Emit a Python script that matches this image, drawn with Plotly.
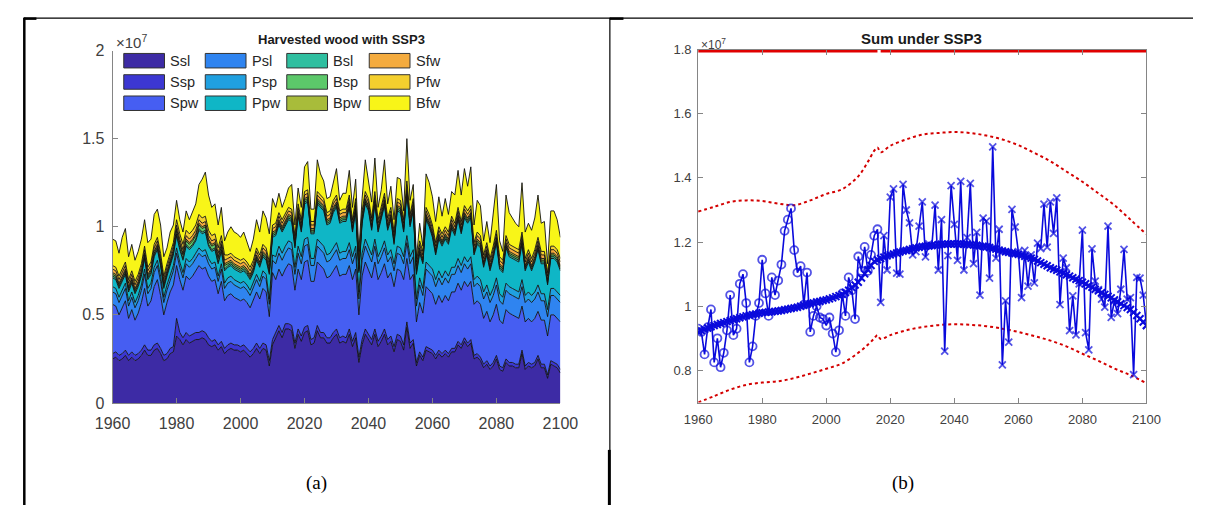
import plotly.graph_objects as go

# ---------------- data ----------------
years = list(range(1960, 2101))

layer_names = ["Ssl", "Ssp", "Spw", "Psl", "Psp", "Ppw",
               "Bsl", "Bsp", "Bpw", "Sfw", "Pfw", "Bfw"]
layer_colors = ["#3d2ba5", "#3c37d2", "#465ef2", "#2f84f0", "#20a0e0", "#0fb6c6",
                "#2fbfa0", "#5cc86a", "#a8bc3a", "#f4ab3e", "#f4cf2e", "#f8f518"]

# harvested wood per category, units of 1e5
ssl = [25, 26, 24, 25, 27, 24, 26, 24, 25, 27,
       30, 27, 27, 30, 31, 28, 24, 25, 28, 29,
       38, 36, 33, 36, 34, 35, 36, 36, 37, 36,
       33, 32, 33, 30, 32, 28, 30, 31, 30, 30,
       29, 30, 28, 26, 28, 31, 28, 31, 30, 21,
       33, 37, 41, 37, 42, 42, 41, 31, 39, 35,
       40, 41, 33, 34, 41, 37, 37, 34, 34, 37,
       39, 34, 35, 34, 39, 32, 37, 23, 33, 39,
       36, 33, 39, 32, 35, 39, 33, 35, 29, 36,
       35, 30, 43, 31, 34, 21, 27, 24, 30, 29,
       28, 25, 28, 26, 28, 26, 29, 29, 33, 31,
       35, 32, 34, 25, 26, 24, 20, 22, 19, 21,
       25, 19, 18, 23, 21, 21, 20, 20, 28, 19,
       21, 20, 21, 25, 20, 20, 14, 22, 21, 20,
       17]
ssp = [3, 3, 3, 3, 3, 3, 3, 3, 3, 3,
       3, 3, 3, 3, 3, 3, 3, 3, 3, 3,
       10, 4, 4, 4, 4, 4, 4, 4, 4, 4,
       4, 3, 3, 3, 3, 3, 3, 3, 3, 3,
       3, 3, 3, 3, 3, 3, 3, 3, 3, 3,
       3, 3, 3, 3, 3, 3, 3, 3, 3, 3,
       3, 3, 3, 3, 3, 3, 3, 3, 3, 3,
       3, 3, 3, 3, 3, 3, 3, 3, 3, 3,
       3, 3, 3, 3, 3, 3, 3, 3, 3, 3,
       3, 3, 3, 3, 2, 2, 2, 2, 2, 2,
       2, 2, 2, 2, 2, 2, 2, 2, 2, 2,
       2, 2, 2, 2, 2, 2, 2, 2, 2, 2,
       2, 2, 2, 2, 2, 2, 2, 2, 2, 2,
       2, 2, 2, 2, 2, 2, 2, 2, 2, 2,
       2]
spw = [28, 26, 23, 26, 28, 21, 24, 20, 23, 27,
       32, 25, 28, 33, 36, 30, 23, 29, 32, 35,
       30, 30, 27, 32, 32, 33, 35, 38, 35, 37,
       35, 34, 34, 29, 34, 27, 28, 28, 27, 26,
       26, 26, 26, 25, 27, 29, 28, 31, 30, 25,
       38, 30, 32, 32, 31, 34, 34, 30, 34, 32,
       37, 37, 33, 32, 36, 38, 36, 34, 35, 35,
       36, 35, 35, 36, 36, 35, 36, 24, 36, 38,
       37, 35, 38, 35, 36, 37, 35, 36, 34, 37,
       37, 37, 36, 36, 37, 23, 28, 25, 34, 33,
       32, 29, 31, 29, 31, 30, 32, 32, 33, 31,
       32, 32, 33, 29, 30, 30, 26, 28, 25, 27,
       29, 26, 25, 28, 28, 27, 27, 26, 25, 25,
       25, 24, 25, 25, 25, 25, 22, 26, 27, 26,
       27]
psl = [7, 7, 7, 7, 7, 7, 7, 7, 7, 7,
       8, 7, 7, 8, 8, 8, 7, 7, 7, 8,
       7, 7, 7, 7, 7, 7, 7, 7, 7, 7,
       7, 7, 7, 7, 7, 7, 7, 7, 7, 7,
       7, 7, 7, 7, 7, 7, 7, 7, 7, 7,
       7, 9, 9, 9, 9, 9, 9, 9, 9, 9,
       9, 9, 9, 9, 9, 9, 9, 9, 9, 9,
       9, 9, 9, 9, 9, 9, 9, 9, 9, 9,
       9, 9, 9, 9, 9, 9, 9, 9, 9, 9,
       9, 9, 9, 9, 10, 9, 10, 10, 10, 10,
       10, 10, 10, 10, 10, 10, 10, 10, 10, 10,
       10, 10, 10, 10, 10, 10, 11, 11, 11, 11,
       11, 11, 11, 11, 11, 11, 11, 11, 11, 11,
       11, 11, 11, 11, 11, 11, 11, 11, 11, 11,
       11]
psp = [3, 3, 3, 3, 3, 3, 3, 3, 3, 3,
       3, 3, 3, 3, 3, 3, 3, 3, 3, 3,
       3, 3, 3, 3, 3, 3, 3, 3, 3, 3,
       3, 3, 3, 3, 3, 3, 3, 3, 3, 3,
       3, 3, 3, 3, 3, 3, 3, 3, 3, 3,
       3, 4, 4, 4, 4, 4, 4, 4, 4, 4,
       4, 4, 4, 4, 4, 4, 4, 4, 4, 4,
       4, 4, 4, 4, 4, 4, 4, 4, 4, 4,
       4, 4, 4, 4, 4, 4, 4, 4, 4, 4,
       4, 4, 4, 4, 4, 4, 4, 4, 4, 4,
       4, 4, 4, 4, 4, 4, 4, 4, 4, 4,
       4, 4, 4, 4, 4, 4, 4, 4, 4, 4,
       4, 4, 4, 4, 4, 4, 4, 4, 4, 4,
       4, 4, 4, 4, 4, 4, 4, 4, 4, 4,
       4]
ppw = [5, 5, 5, 5, 5, 5, 5, 5, 5, 5,
       6, 5, 5, 6, 6, 6, 5, 5, 5, 6,
       7, 7, 7, 7, 7, 7, 7, 10, 10, 10,
       7, 7, 7, 7, 7, 7, 6, 6, 6, 6,
       6, 6, 6, 6, 6, 8, 8, 8, 8, 14,
       10, 12, 12, 12, 12, 12, 12, 11, 17, 14,
       20, 20, 14, 14, 20, 20, 20, 17, 17, 20,
       20, 17, 17, 17, 20, 14, 20, 11, 17, 20,
       20, 14, 20, 14, 17, 20, 14, 17, 11, 20,
       20, 14, 24, 17, 22, 14, 14, 14, 24, 22,
       18, 14, 18, 18, 18, 18, 22, 18, 22, 18,
       22, 22, 22, 14, 18, 18, 14, 17, 14, 17,
       20, 14, 14, 20, 17, 17, 17, 17, 20, 14,
       17, 14, 17, 20, 17, 17, 14, 17, 17, 17,
       14]
bsl = [1, 1, 1, 1, 1, 1, 1, 1, 1, 1,
       1, 1, 1, 1, 1, 1, 1, 1, 1, 1,
       1, 1, 1, 1, 1, 1, 1, 1, 1, 1,
       1, 1, 1, 1, 1, 1, 1, 1, 1, 1,
       1, 1, 1, 1, 1, 1, 1, 1, 1, 1,
       1, 1, 1, 1, 1, 1, 1, 1, 1, 1,
       1, 1, 1, 1, 1, 1, 1, 1, 1, 1,
       1, 1, 1, 1, 1, 1, 1, 1, 1, 1,
       1, 1, 1, 1, 1, 1, 1, 1, 1, 1,
       1, 1, 1, 1, 1, 1, 1, 1, 1, 1,
       1, 1, 1, 1, 1, 1, 1, 1, 1, 1,
       1, 1, 1, 1, 1, 1, 1, 1, 1, 1,
       1, 1, 1, 1, 1, 1, 1, 1, 1, 1,
       1, 1, 1, 1, 1, 1, 1, 1, 1, 1,
       1]
bsp = [1, 1, 1, 1, 1, 1, 1, 1, 1, 1,
       1, 1, 1, 1, 1, 1, 1, 1, 1, 1,
       2, 2, 2, 2, 2, 2, 2, 2, 2, 2,
       2, 2, 2, 2, 2, 2, 1, 1, 1, 1,
       1, 1, 1, 1, 1, 1, 1, 1, 1, 1,
       1, 1, 1, 1, 1, 1, 1, 1, 1, 1,
       1, 1, 1, 1, 1, 1, 1, 1, 1, 1,
       1, 1, 1, 1, 1, 1, 1, 1, 1, 1,
       1, 1, 1, 1, 1, 1, 1, 1, 1, 1,
       1, 1, 1, 1, 1, 1, 1, 1, 1, 1,
       1, 1, 1, 1, 1, 1, 1, 1, 1, 1,
       1, 1, 1, 1, 1, 1, 1, 1, 1, 1,
       1, 1, 1, 1, 1, 1, 1, 1, 1, 1,
       1, 1, 1, 1, 1, 1, 1, 1, 1, 1,
       1]
bpw = list(bsl)
sfw = [2, 2, 2, 2, 2, 2, 2, 2, 2, 2,
       2, 2, 2, 2, 2, 2, 2, 2, 2, 2,
       2, 2, 2, 2, 2, 2, 2, 2, 2, 2,
       2, 2, 2, 2, 2, 2, 2, 2, 2, 2,
       2, 2, 2, 2, 2, 2, 2, 2, 2, 2,
       2, 2, 2, 2, 2, 2, 2, 2, 2, 2,
       2, 2, 2, 2, 2, 2, 2, 2, 2, 2,
       2, 2, 2, 2, 2, 2, 2, 2, 2, 2,
       2, 2, 2, 2, 2, 2, 2, 2, 2, 2,
       2, 2, 2, 2, 2, 2, 2, 2, 2, 2,
       2, 2, 2, 2, 2, 2, 2, 2, 2, 2,
       2, 2, 2, 2, 2, 2, 2, 2, 2, 2,
       2, 2, 2, 2, 2, 2, 2, 2, 2, 2,
       2, 2, 2, 2, 2, 2, 2, 2, 2, 2,
       2]
pfw = [2, 2, 2, 2, 2, 2, 2, 2, 2, 2,
       2, 2, 2, 2, 2, 2, 2, 2, 2, 2,
       3, 3, 3, 3, 3, 3, 3, 3, 3, 3,
       3, 3, 3, 3, 3, 3, 2, 2, 2, 2,
       2, 2, 2, 2, 2, 2, 2, 2, 2, 2,
       2, 2, 2, 2, 2, 2, 2, 2, 2, 2,
       2, 2, 2, 2, 2, 2, 2, 2, 2, 2,
       2, 2, 2, 2, 2, 2, 2, 2, 2, 2,
       2, 2, 2, 2, 2, 2, 2, 2, 2, 2,
       2, 2, 2, 2, 2, 2, 2, 2, 2, 2,
       2, 2, 2, 2, 2, 2, 2, 2, 2, 2,
       2, 2, 2, 2, 2, 2, 2, 2, 2, 2,
       2, 2, 2, 2, 2, 2, 2, 2, 2, 2,
       2, 2, 2, 2, 2, 2, 2, 2, 2, 2,
       2]
bfw = [15, 15, 13, 18, 19, 13, 15, 12, 13, 14,
       15, 14, 13, 17, 16, 16, 11, 9, 12, 10,
       11, 8, 7, 11, 8, 10, 12, 17, 22, 25,
       20, 16, 17, 13, 16, 8, 13, 15, 14, 14,
       13, 15, 12, 9, 12, 16, 13, 19, 17, 16,
       15, 9, 11, 7, 8, 11, 14, 6, 9, 7,
       14, 16, 7, 7, 18, 12, 10, 8, 8, 10,
       15, 6, 9, 9, 14, 7, 11, 5, 7, 18,
       10, 9, 19, 7, 10, 19, 8, 12, 7, 12,
       12, 5, 24, 8, 8, 2, 10, 3, 19, 18,
       16, 12, 17, 10, 16, 10, 14, 16, 21, 15,
       21, 14, 22, 10, 18, 17, 8, 12, 9, 18,
       26, 9, 5, 23, 18, 16, 14, 13, 28, 15,
       15, 16, 18, 24, 16, 17, 5, 20, 20, 17,
       12]
layers = [ssl, ssp, spw, psl, psp, ppw, bsl, bsp, bpw, sfw, pfw, bfw]
LAYER_UNIT = 1e5

# panel (b): annual sum (units of 1e7); observed up to 2016, projected after
sum_total = [0.93, 0.92, 0.85, 0.935, 0.99, 0.825, 0.90, 0.81, 0.855, 0.925,
             1.035, 0.91, 0.93, 1.07, 1.10, 1.01, 0.825, 0.875, 0.97, 1.01,
             1.145, 1.04, 0.97, 1.09, 1.035, 1.08, 1.13, 1.235, 1.27, 1.305,
             1.175, 1.105, 1.125, 1.005, 1.105, 0.92, 0.97, 1.0, 0.965, 0.96,
             0.94, 0.965, 0.915, 0.857, 0.925, 1.04, 0.97, 1.09, 1.05, 0.96,
             1.155, 1.11, 1.185, 1.11, 1.16, 1.22, 1.24, 1.012, 1.22, 1.113,
             1.34, 1.366, 1.103, 1.10, 1.38, 1.30, 1.26, 1.16, 1.17, 1.25,
             1.325, 1.154, 1.194, 1.19, 1.315, 1.113, 1.27, 0.86, 1.158, 1.376,
             1.255, 1.143, 1.389, 1.113, 1.214, 1.383, 1.133, 1.23, 1.035, 1.275,
             1.265, 1.088, 1.497, 1.15, 1.24, 0.817, 1.017, 0.888, 1.302, 1.247,
             1.17, 1.027, 1.174, 1.063, 1.16, 1.073, 1.197, 1.18, 1.318, 1.184,
             1.325, 1.227, 1.338, 1.005, 1.15, 1.12, 0.924, 1.032, 0.911, 1.07,
             1.237, 0.918, 0.864, 1.179, 1.078, 1.052, 1.022, 0.997, 1.25, 0.965,
             1.017, 0.977, 1.053, 1.177, 1.022, 1.027, 0.787, 1.09, 1.088, 1.035,
             0.94]
last_observed_year = 2016

trend = [0.920, 0.924, 0.928, 0.932, 0.936, 0.940, 0.943, 0.946, 0.949, 0.952,
         0.955, 0.958, 0.961, 0.964, 0.967, 0.970, 0.972, 0.974, 0.976, 0.978,
         0.980, 0.981, 0.982, 0.983, 0.984, 0.985, 0.987, 0.989, 0.991, 0.993,
         0.995, 0.997, 1.000, 1.003, 1.006, 1.008, 1.010, 1.013, 1.015, 1.018,
         1.020, 1.023, 1.026, 1.030, 1.033, 1.037, 1.043, 1.050, 1.058, 1.066,
         1.075, 1.088, 1.101, 1.114, 1.127, 1.140, 1.145, 1.149, 1.153, 1.157,
         1.160, 1.163, 1.166, 1.169, 1.172, 1.174, 1.177, 1.179, 1.182, 1.184,
         1.186, 1.187, 1.188, 1.189, 1.190, 1.192, 1.193, 1.193, 1.194, 1.194,
         1.194, 1.194, 1.194, 1.193, 1.193, 1.192, 1.191, 1.190, 1.188, 1.187,
         1.185, 1.183, 1.180, 1.178, 1.175, 1.172, 1.170, 1.168, 1.166, 1.164,
         1.162, 1.159, 1.156, 1.153, 1.150, 1.146, 1.141, 1.136, 1.131, 1.126,
         1.120, 1.116, 1.112, 1.107, 1.103, 1.098, 1.094, 1.089, 1.084, 1.080,
         1.075, 1.070, 1.064, 1.059, 1.053, 1.048, 1.042, 1.037, 1.031, 1.026,
         1.020, 1.014, 1.008, 1.002, 0.996, 0.990, 0.981, 0.971, 0.961, 0.951,
         0.940]

bound_years = [1960, 1965, 1970, 1975, 1980, 1985, 1990, 1995, 2000, 2005, 2010,
               2013, 2015, 2016, 2017, 2020, 2025, 2030, 2035, 2040, 2045, 2050,
               2055, 2060, 2065, 2070, 2075, 2080, 2085, 2090, 2095, 2100]
upper_bound = [1.295, 1.31, 1.325, 1.33, 1.328, 1.32, 1.315, 1.33, 1.35, 1.365, 1.405,
               1.45, 1.485, 1.495, 1.48, 1.50, 1.52, 1.535, 1.54, 1.543, 1.54, 1.532,
               1.52, 1.502, 1.478, 1.452, 1.42, 1.388, 1.352, 1.315, 1.27, 1.224]
lower_bound = [0.70, 0.72, 0.74, 0.755, 0.762, 0.766, 0.776, 0.79, 0.805, 0.822, 0.855,
               0.88, 0.90, 0.91, 0.898, 0.91, 0.925, 0.935, 0.941, 0.944, 0.942, 0.938,
               0.93, 0.92, 0.907, 0.893, 0.875, 0.852, 0.83, 0.806, 0.785, 0.76]
limit_years = [1960, 2016, 2016.5, 2017, 2100]
limit_value = [1.8, 1.8, None, 1.8, 1.8]
SUM_UNIT = 1e7

x_ticks = [1960, 1980, 2000, 2020, 2040, 2060, 2080, 2100]
a_yticks = [0, 0.5, 1, 1.5, 2]
a_yticktext = ["0", "0.5", "1", "1.5", "2"]
b_yticks = [0.8, 1.0, 1.2, 1.4, 1.6, 1.8]
b_yticktext = ["0.8", "1", "1.2", "1.4", "1.6", "1.8"]

# ---------------- figure ----------------
W, H = 1211, 514


def PX(x):
    return x / W


def PY(y):
    return 1 - y / H


fig = go.Figure()

for name, color, vals in zip(layer_names, layer_colors, layers):
    fig.add_trace(go.Scatter(
        x=years, y=[v * LAYER_UNIT for v in vals], name=name,
        mode="lines", stackgroup="one", fillcolor=color,
        line=dict(color="#111111", width=0.9),
        xaxis="x", yaxis="y", showlegend=False, hoverinfo="skip"))

blue = "#0a0adc"
red = "#d40000"
fig.add_trace(go.Scatter(x=bound_years, y=[v * SUM_UNIT for v in upper_bound], mode="lines",
                         line=dict(color=red, width=2, dash="dot", shape="spline"),
                         xaxis="x2", yaxis="y2", showlegend=False))
fig.add_trace(go.Scatter(x=bound_years, y=[v * SUM_UNIT for v in lower_bound], mode="lines",
                         line=dict(color=red, width=2, dash="dot", shape="spline"),
                         xaxis="x2", yaxis="y2", showlegend=False))
fig.add_trace(go.Scatter(x=limit_years, y=[None if v is None else v * SUM_UNIT for v in limit_value],
                         mode="lines", line=dict(color="#e00000", width=6),
                         connectgaps=False, xaxis="x2", yaxis="y2", showlegend=False))
fig.add_trace(go.Scatter(x=years, y=[v * SUM_UNIT for v in trend], mode="lines+markers",
                         line=dict(color=blue, width=2),
                         marker=dict(symbol="x-thin", size=7, color=blue,
                                     line=dict(color=blue, width=2)),
                         xaxis="x2", yaxis="y2", showlegend=False))
symbols = ["circle-open" if y <= last_observed_year else "x-thin" for y in years]
sizes = [8 if y <= last_observed_year else 7 for y in years]
fig.add_trace(go.Scatter(x=years, y=[v * SUM_UNIT for v in sum_total], mode="lines+markers",
                         line=dict(color=blue, width=1.6),
                         marker=dict(symbol=symbols, size=sizes, color=blue,
                                     line=dict(color=blue, width=1.8)),
                         xaxis="x2", yaxis="y2", showlegend=False))

axis_gray = "#858585"
text_gray = "#404040"
fig.update_layout(
    width=W, height=H, margin=dict(l=0, r=0, t=0, b=0),
    paper_bgcolor="white", plot_bgcolor="white", showlegend=False,
    font=dict(family="Liberation Sans, Arial, sans-serif", color=text_gray),
    xaxis=dict(domain=[PX(97.5), PX(559)], range=[1960, 2100], tickvals=x_ticks,
               showline=True, linecolor=axis_gray, linewidth=1, ticks="inside",
               ticklen=5, tickcolor=axis_gray, showgrid=False, zeroline=False,
               tickfont=dict(size=16, color=text_gray), ticklabelstandoff=6, anchor="y"),
    yaxis=dict(domain=[PY(408.5), PY(44)], range=[0, 2e7],
               tickvals=[v * SUM_UNIT for v in a_yticks], ticktext=a_yticktext,
               showline=True, linecolor=axis_gray, linewidth=1, ticks="inside",
               ticklen=5, tickcolor=axis_gray, showgrid=False, zeroline=False,
               tickfont=dict(size=16, color=text_gray), ticklabelstandoff=4, anchor="x"),
    xaxis2=dict(domain=[PX(701), PX(1163)], range=[1960, 2100], tickvals=x_ticks,
                showline=True, mirror="ticks", linecolor=axis_gray, linewidth=1,
                ticks="inside", ticklen=5, tickcolor=axis_gray, showgrid=False,
                zeroline=False, tickfont=dict(size=13, color=text_gray),
                ticklabelstandoff=5, anchor="y2"),
    yaxis2=dict(domain=[PY(408), PY(43)], range=[0.7e7, 1.8e7],
                tickvals=[v * SUM_UNIT for v in b_yticks], ticktext=b_yticktext,
                showline=True, mirror="ticks", linecolor=axis_gray, linewidth=1,
                ticks="inside", ticklen=5, tickcolor=axis_gray, showgrid=False,
                zeroline=False, tickfont=dict(size=13, color=text_gray),
                ticklabelstandoff=3, anchor="x2"),
)

ann = []
ann.append(dict(x=PX(333), y=PY(33), text="<b>Harvested wood with SSP3</b>",
                font=dict(size=13, color="#1a1a1a")))
ann.append(dict(x=PX(931), y=PY(32), text="<b>Sum under SSP3</b>",
                font=dict(size=15, color="#1a1a1a")))
ann.append(dict(x=PX(99), y=PY(35), text="×10<sup>7</sup>", xanchor="left",
                font=dict(size=15, color=text_gray)))
ann.append(dict(x=PX(702), y=PY(37), text="×10<sup>7</sup>", xanchor="left",
                font=dict(size=12, color=text_gray)))
ann.append(dict(x=PX(308), y=PY(491), text="(a)",
                font=dict(size=19, color="black", family="Liberation Serif, Times New Roman, serif")))
ann.append(dict(x=PX(912), y=PY(491), text="(b)",
                font=dict(size=19, color="black", family="Liberation Serif, Times New Roman, serif")))

shapes = []
col_x = [109, 193, 277, 362]
row_y = [54.5, 76.5, 98.5]
for i, (name, color) in enumerate(zip(layer_names, layer_colors)):
    c, r = i // 3, i % 3
    x0 = col_x[c]
    yc = row_y[r]
    shapes.append(dict(type="rect", xref="paper", yref="paper",
                       x0=PX(x0), x1=PX(x0 + 42), y0=PY(yc + 7.5), y1=PY(yc - 7.5),
                       fillcolor=color, line=dict(color="#333333", width=1)))
    ann.append(dict(x=PX(x0 + 46), y=PY(yc), text=name, xanchor="left",
                    font=dict(size=14.5, color="#262626")))

for a in ann:
    a.setdefault("xref", "paper")
    a.setdefault("yref", "paper")
    a.setdefault("showarrow", False)
    a.setdefault("xanchor", "center")
    a.setdefault("yanchor", "middle")


# table borders
def hline(x0, x1, y, w):
    return dict(type="line", xref="paper", yref="paper", x0=PX(x0), x1=PX(x1),
                y0=PY(y), y1=PY(y), line=dict(color="black", width=w))


def vline(x, y0, y1, w):
    return dict(type="line", xref="paper", yref="paper", x0=PX(x), x1=PX(x),
                y0=PY(y0), y1=PY(y1), line=dict(color="black", width=w))


shapes += [
    hline(6, 1211, 10.5, 1.2),
    hline(6, 19, 11, 2.5),
    hline(610, 624, 11, 2.5),
    vline(6.5, 10, 514, 2.5),
    vline(610, 10, 457, 1.2),
    vline(609.5, 457, 514, 3),
]

fig.update_layout(annotations=ann, shapes=shapes)

fig.write_html("out.html", config={"displayModeBar": False})

# remove the browser's default page margin so the figure sits at (0, 0)
with open("out.html", "r", encoding="utf-8") as fh:
    page = fh.read()
page = page.replace("<body>", '<body style="margin:0;padding:0;overflow:hidden;">', 1)
with open("out.html", "w", encoding="utf-8") as fh:
    fh.write(page)
